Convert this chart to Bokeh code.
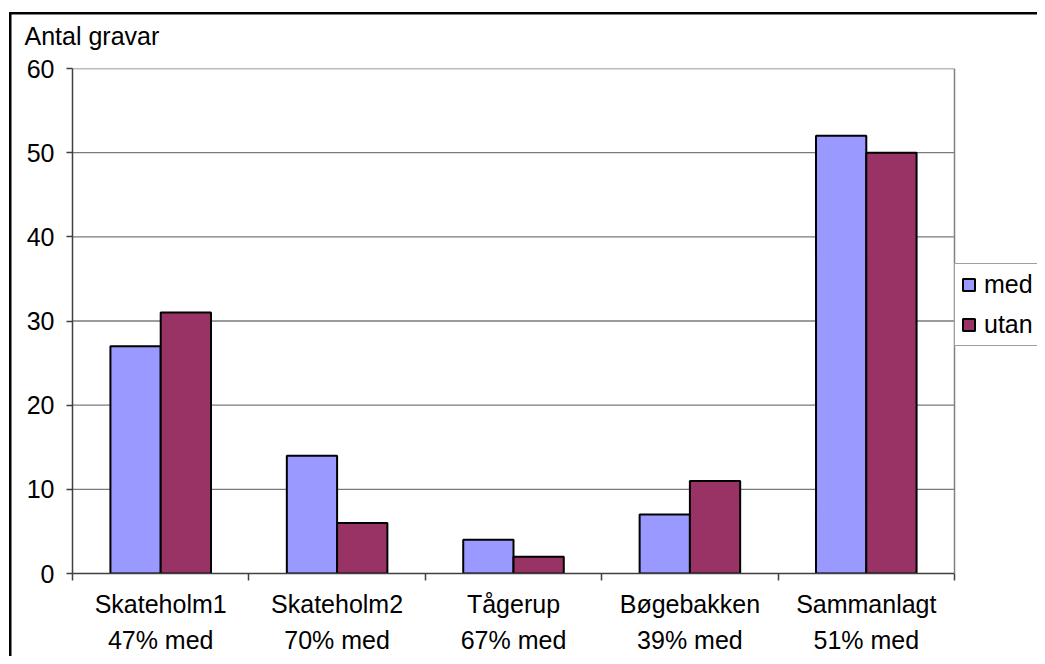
from bokeh.plotting import figure
from bokeh.models import (ColumnDataSource, Range1d, FixedTicker, LinearAxis,
                          Legend, LegendItem, Title, Span)
from bokeh.transform import dodge
from bokeh.embed import file_html
from bokeh.resources import INLINE

sites = ["Skateholm1", "Skateholm2", "Tågerup", "Bøgebakken", "Sammanlagt"]
share_labels = ["47% med", "70% med", "67% med", "39% med", "51% med"]
med = [27, 14, 4, 7, 52]
utan = [31, 6, 2, 11, 50]
y_ticks = [0, 10, 20, 30, 40, 50, 60]

FONT = "Liberation Sans"
FS = "25px"
MED_COLOR = "#9999FF"
UTAN_COLOR = "#993366"
AXIS_GRAY = "#404040"
GRID_GRAY = "#7a7a7a"

W, H = 1037, 656
LEFT, TOP, BOTTOM = 72, 68, 82
PLOT_RIGHT = 954  # right edge of the plot area; the legend lives beyond it
n = len(sites)
x_end = n * (W - LEFT) / (PLOT_RIGHT - LEFT)

centers = [i + 0.5 for i in range(n)]
src = ColumnDataSource(dict(x=centers, med=med, utan=utan))
grid_src = ColumnDataSource(dict(y=y_ticks[1:], x0=[0] * (len(y_ticks) - 1),
                                 x1=[n] * (len(y_ticks) - 1)))

p = figure(width=W, height=H, output_backend="svg", toolbar_location=None,
           x_range=Range1d(0, x_end), y_range=Range1d(0, 60),
           min_border_left=LEFT, min_border_right=0, min_border_top=TOP,
           min_border_bottom=BOTTOM, x_axis_type=None)
p.background_fill_color = "white"
p.border_fill_color = None
p.outline_line_color = None
p.xgrid.grid_line_color = None
p.ygrid.grid_line_color = None

# outer chart border (left and top edges; the rest lies outside the picture)
p.styles = {
    "background-color": "white",
    "background-image": "linear-gradient(black, black), linear-gradient(black, black)",
    "background-size": "2.5px 100%, 100% 2.5px",
    "background-position": "9px 12px, 9px 12px",
    "background-repeat": "no-repeat",
}

# horizontal gridlines and right plot-area edge
p.segment(x0="x0", x1="x1", y0="y", y1="y", source=grid_src,
          line_color=GRID_GRAY, line_width=1.3)
p.add_layout(Span(location=n, dimension="height", line_color="#808080",
                  line_width=1.5))

bw = 0.285
r_med = p.vbar(x=dodge("x", -bw / 2), top="med", width=bw, source=src,
               fill_color=MED_COLOR, line_color="black", line_width=2)
r_utan = p.vbar(x=dodge("x", bw / 2), top="utan", width=bw, source=src,
                fill_color=UTAN_COLOR, line_color="black", line_width=2)

# y axis
ya = p.yaxis[0]
ya.ticker = FixedTicker(ticks=y_ticks, minor_ticks=[])
ya.axis_line_color = AXIS_GRAY
ya.axis_line_width = 1.5
ya.major_tick_line_color = AXIS_GRAY
ya.major_tick_line_width = 1.5
ya.major_tick_out = 6
ya.major_tick_in = 0
ya.minor_tick_line_color = None
ya.major_label_text_font = FONT
ya.major_label_text_font_size = FS
ya.major_label_text_color = "black"
ya.major_label_standoff = 12

# x axis: two-line category labels + category boundary ticks
xa = LinearAxis(ticker=FixedTicker(ticks=centers,
                                   minor_ticks=list(range(n + 1))),
                bounds=(0, n))
xa.major_label_overrides = {c: f"{s}\n{t}"
                            for c, s, t in zip(centers, sites, share_labels)}
xa.axis_line_color = AXIS_GRAY
xa.axis_line_width = 1.5
xa.major_tick_line_color = None
xa.major_tick_out = 0
xa.major_tick_in = 0
xa.minor_tick_line_color = AXIS_GRAY
xa.minor_tick_line_width = 1.5
xa.minor_tick_out = 7
xa.minor_tick_in = 0
xa.major_label_text_font = FONT
xa.major_label_text_font_size = FS
xa.major_label_text_color = "black"
xa.major_label_text_line_height = 1.3
xa.major_label_standoff = 9
p.add_layout(xa, "below")

# axis title at top-left
p.title = Title(text="Antal gravar", text_font=FONT, text_font_size=FS,
                text_font_style="normal", text_color="black", align="left",
                offset=-48, standoff=37)

# legend (partly cut by the picture edge, as in the reference)
legend = Legend(items=[LegendItem(label="med", renderers=[r_med]),
                       LegendItem(label="utan", renderers=[r_utan])],
                location=(PLOT_RIGHT - LEFT, 227))
legend.label_text_font = FONT
legend.label_text_font_size = FS
legend.label_text_color = "black"
legend.glyph_width = 15
legend.glyph_height = 15
legend.label_height = 28
legend.spacing = 11
legend.padding = 6
legend.label_standoff = 8
legend.margin = 0
legend.border_line_color = AXIS_GRAY
legend.border_line_width = 1.5
legend.background_fill_color = "white"
legend.background_fill_alpha = 1
p.add_layout(legend, "center")

open("out.html", "w").write(file_html(p, INLINE))
